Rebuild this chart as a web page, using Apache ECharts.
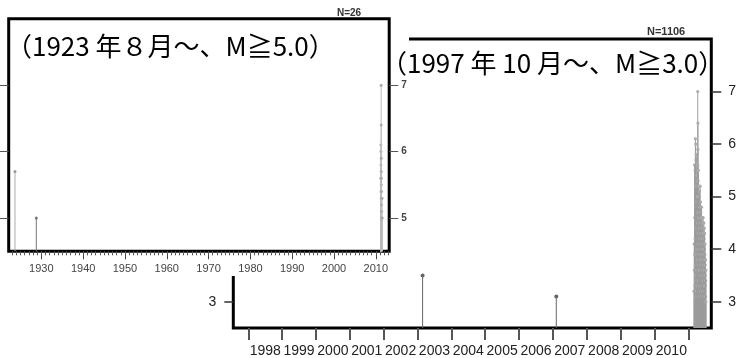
<!DOCTYPE html>
<html><head><meta charset="utf-8">
<script src="https://cdn.jsdelivr.net/npm/echarts@6/dist/echarts.min.js"></script>
<style>html,body{margin:0;padding:0;background:#fff}#c{width:752px;height:358px}</style>
</head><body><div id="c"></div>
<script>
// ---------- Left panel: since Aug 1923, M>=5.0 (N=26) ----------
const leftDatesLight = [1923.7];
const leftMagsLight  = [5.7];
const leftDatesDark  = [1928.8];
const leftMagsDark   = [5.0];
const leftDates2011 = [2011.19, 2011.21, 2011.22, 2011.23, 2011.25, 2011.28, 2011.28, 2011.29, 2011.30, 2011.31,
                       2011.32, 2011.33, 2011.34, 2011.35, 2011.36, 2011.37, 2011.38, 2011.39, 2011.40, 2011.42,
                       2011.44, 2011.46, 2011.48, 2011.50];
const leftMags2011  = [5.6, 6.1, 6.0, 5.8, 5.4, 7.0, 6.4, 5.9, 5.7, 5.5,
                       5.3, 5.2, 5.1, 5.6, 5.4, 5.0, 5.2, 5.0, 5.1, 5.0,
                       5.0, 5.0, 5.3, 5.0];
const leftMajorTicks = [1930, 1940, 1950, 1960, 1970, 1980, 1990, 2000, 2010];
const leftMagTicks = [5, 6, 7];

// ---------- Right panel: since Oct 1997, M>=3.0 (N=1106) ----------
const rightDatesDark = [2003.15, 2007.10];
const rightMagsDark  = [3.5, 3.1];
const rightDatesCluster = [
  2011.170, 2011.175, 2011.180, 2011.185, 2011.190, 2011.190, 2011.195, 2011.200, 2011.200, 2011.205,
  2011.210, 2011.210, 2011.215, 2011.220, 2011.220, 2011.225, 2011.230, 2011.230, 2011.235, 2011.240,
  2011.240, 2011.245, 2011.250, 2011.250, 2011.255, 2011.260, 2011.260, 2011.265, 2011.270, 2011.275,
  2011.280, 2011.285, 2011.285, 2011.285, 2011.290, 2011.290, 2011.290, 2011.295, 2011.300, 2011.300,
  2011.300, 2011.305, 2011.310, 2011.310, 2011.310, 2011.315, 2011.320, 2011.320, 2011.325, 2011.330,
  2011.330, 2011.335, 2011.340, 2011.340, 2011.345, 2011.350, 2011.350, 2011.355, 2011.360, 2011.360,
  2011.365, 2011.370, 2011.370, 2011.375, 2011.380, 2011.380, 2011.385, 2011.390, 2011.390, 2011.395,
  2011.400, 2011.400, 2011.405, 2011.410, 2011.410, 2011.415, 2011.420, 2011.420, 2011.425, 2011.430,
  2011.435, 2011.440, 2011.440, 2011.445, 2011.450, 2011.450, 2011.455, 2011.460, 2011.460, 2011.465,
  2011.470, 2011.470, 2011.475, 2011.480, 2011.480, 2011.485, 2011.490, 2011.490, 2011.495, 2011.500,
  2011.500, 2011.505, 2011.510, 2011.510, 2011.515, 2011.520, 2011.520];
const rightMagsCluster = [
  3.2, 4.1, 3.6, 5.6, 3.9, 4.6, 3.3, 5.5, 4.2, 3.7,
  6.1, 3.4, 4.8, 6.0, 3.1, 5.7, 4.4, 3.5, 5.8, 3.9,
  5.2, 3.2, 4.9, 3.6, 5.4, 4.0, 3.3, 5.0, 3.8, 4.5,
  7.0, 6.4, 5.9, 5.6, 5.3, 4.7, 4.1, 3.4, 5.5, 5.0,
  4.3, 3.7, 5.2, 4.6, 3.9, 3.1, 5.0, 4.4, 3.6, 5.1,
  4.0, 3.3, 4.8, 4.2, 3.5, 5.2, 3.8, 4.5, 3.2, 4.9,
  4.1, 3.6, 4.7, 3.9, 4.6, 3.3, 4.3, 3.7, 4.8, 3.1,
  4.4, 4.0, 3.5, 4.6, 3.8, 4.2, 3.2, 4.5, 3.6, 4.1,
  3.9, 4.6, 3.4, 4.3, 3.7, 4.0, 3.1, 4.5, 3.5, 4.2,
  3.8, 4.4, 3.3, 4.0, 3.6, 4.3, 3.2, 3.9, 4.1, 3.5,
  3.7, 3.3, 3.8, 3.1, 3.4, 3.6, 3.0];
const rightYearTicks  = [1998, 1999, 2000, 2001, 2002, 2003, 2004, 2005, 2006, 2007, 2008, 2009, 2010, 2011];
const rightYearLabels = [1998, 1999, 2000, 2001, 2002, 2003, 2004, 2005, 2006, 2007, 2008, 2009, 2010];
const rightMagTicks = [3, 4, 5, 6, 7];

const leftTitle  = '（1923 年８月～、M≧5.0）';
const rightTitle = '（1997 年 10 月～、M≧3.0）';
const leftCount  = 'N=26';
const rightCount = 'N=1106';

// ---------- helpers ----------
const LX = [1922.2, 2013.2], LY = [4.5, 8.0];
const RX = [1997.557, 2011.68], RY = [2.5, 8.0];
const pairs = (xs, ys) => xs.map((x, i) => [x, ys[i]]);
const leftMinor = [];
for (let y = 1923; y <= 2013; y++) leftMinor.push(y);

function stem(base, stroke, fill, r) {
  return function (params, api) {
    const x = api.value(0), v = api.value(1);
    const p0 = api.coord([x, base]);
    const p1 = api.coord([x, v]);
    return { type: 'group', children: [
      { type: 'line', shape: { x1: p0[0], y1: p0[1], x2: p1[0], y2: p1[1] }, style: { stroke: stroke, lineWidth: 1 } },
      { type: 'circle', shape: { cx: p1[0], cy: p1[1], r: r }, style: { fill: fill } }
    ]};
  };
}

const chart = echarts.init(document.getElementById('c'), null, { renderer: 'canvas' });
const RZ = 0, LZ = 20;
chart.setOption({
  animation: false,
  backgroundColor: '#fff',
  grid: [
    { left: 233.3, top: 39, width: 478, height: 290.3, show: true, borderColor: '#000', borderWidth: 3, backgroundColor: 'transparent', z: RZ },
    { left: 8.7, top: 18.7, width: 380.5, height: 232.6, show: true, borderColor: '#000', borderWidth: 3, backgroundColor: '#fff', z: LZ }
  ],
  xAxis: [
    { gridIndex: 0, type: 'value', position: 'bottom', min: RX[0], max: RX[1], z: RZ,
      axisLine: { show: false }, splitLine: { show: false },
      axisTick: { show: true, customValues: rightYearTicks, length: 12, lineStyle: { color: '#555', width: 2 } },
      axisLabel: { show: true, customValues: rightYearLabels.map(v => v + 0.5), formatter: v => String(Math.floor(v)),
                   fontFamily: '"Liberation Sans", Arial', fontSize: 14, letterSpacing: -0.8, color: '#222', margin: 16 } },
    { gridIndex: 1, type: 'value', position: 'bottom', min: LX[0], max: LX[1], z: LZ + 1,
      axisLine: { show: false }, splitLine: { show: false },
      axisTick: { show: true, customValues: leftMajorTicks, length: 8, lineStyle: { color: '#444', width: 1 } },
      axisLabel: { show: true, customValues: leftMajorTicks, formatter: v => String(v),
                   fontFamily: '"Liberation Sans", Arial', fontSize: 11, color: '#444', margin: 12 } },
    { gridIndex: 1, type: 'value', position: 'bottom', min: LX[0], max: LX[1], z: LZ + 1,
      axisLine: { show: false }, splitLine: { show: false },
      axisTick: { show: true, customValues: leftMinor, length: 4, lineStyle: { color: '#555', width: 1 } },
      axisLabel: { show: false } }
  ],
  yAxis: [
    { gridIndex: 0, type: 'value', position: 'left', min: RY[0], max: RY[1], z: RZ,
      axisLine: { show: false }, splitLine: { show: false },
      axisTick: { show: true, customValues: rightMagTicks, length: 9, lineStyle: { color: '#333', width: 1.5 } },
      axisLabel: { show: true, customValues: rightMagTicks, fontFamily: '"Liberation Sans", Arial', fontSize: 14, color: '#222', margin: 17 } },
    { gridIndex: 0, type: 'value', position: 'right', min: RY[0], max: RY[1], z: RZ,
      axisLine: { show: false }, splitLine: { show: false },
      axisTick: { show: true, customValues: rightMagTicks, length: 10, lineStyle: { color: '#333', width: 1.5 } },
      axisLabel: { show: true, customValues: rightMagTicks, fontFamily: '"Liberation Sans", Arial', fontSize: 14, color: '#222', margin: 17 } },
    { gridIndex: 1, type: 'value', position: 'left', min: LY[0], max: LY[1], z: LZ + 1,
      axisLine: { show: false }, splitLine: { show: false },
      axisTick: { show: true, customValues: leftMagTicks, length: 9, lineStyle: { color: '#555', width: 1 } },
      axisLabel: { show: false } },
    { gridIndex: 1, type: 'value', position: 'right', min: LY[0], max: LY[1], z: LZ + 1,
      axisLine: { show: false }, splitLine: { show: false },
      axisTick: { show: true, customValues: leftMagTicks, length: 9, lineStyle: { color: '#555', width: 1 } },
      axisLabel: { show: true, customValues: leftMagTicks, fontFamily: '"Liberation Sans", Arial', fontSize: 10, fontWeight: 'bold', color: '#444', margin: 12 } }
  ],
  graphic: [
    { type: 'rect', z: 10, silent: true, shape: { x: 0, y: 0, width: 409, height: 276 }, style: { fill: '#fff' } },
    { type: 'text', z: 50, left: 6, top: 33, style: { text: leftTitle, fontFamily: '"Noto Sans CJK JP"', fontSize: 26, fill: '#000' } },
    { type: 'text', z: 50, left: 381, top: 50, style: { text: rightTitle, fontFamily: '"Noto Sans CJK JP"', fontSize: 26, fill: '#000' } },
    { type: 'text', z: 50, left: 337, top: 8, style: { text: leftCount, fontFamily: '"Liberation Sans", Arial', fontSize: 10, fontWeight: 'bold', fill: '#333' } },
    { type: 'text', z: 50, left: 647, top: 26, style: { text: rightCount, fontFamily: '"Liberation Sans", Arial', fontSize: 11, fontWeight: 'bold', fill: '#333', letterSpacing: 1.5 } }
  ],
  series: [
    { type: 'custom', xAxisIndex: 0, yAxisIndex: 0, z: 2, data: pairs(rightDatesCluster, rightMagsCluster),
      encode: { x: 0, y: 1 }, renderItem: stem(RY[0], '#9c9c9c', '#ababab', 1.6) },
    { type: 'custom', xAxisIndex: 0, yAxisIndex: 0, z: 3, data: pairs(rightDatesDark, rightMagsDark),
      encode: { x: 0, y: 1 }, renderItem: stem(RY[0], '#666', '#666', 2) },
    { type: 'custom', xAxisIndex: 1, yAxisIndex: 3, z: LZ + 2, data: pairs(leftDatesLight, leftMagsLight),
      encode: { x: 0, y: 1 }, renderItem: stem(LY[0], '#aaa', '#999', 1.5) },
    { type: 'custom', xAxisIndex: 1, yAxisIndex: 3, z: LZ + 2, data: pairs(leftDatesDark, leftMagsDark),
      encode: { x: 0, y: 1 }, renderItem: stem(LY[0], '#777', '#777', 1.5) },
    { type: 'custom', xAxisIndex: 1, yAxisIndex: 3, z: LZ + 2, data: pairs(leftDates2011, leftMags2011),
      encode: { x: 0, y: 1 }, renderItem: stem(LY[0], '#bbb', '#aaa', 1.5) }
  ]
});
</script></body></html>
